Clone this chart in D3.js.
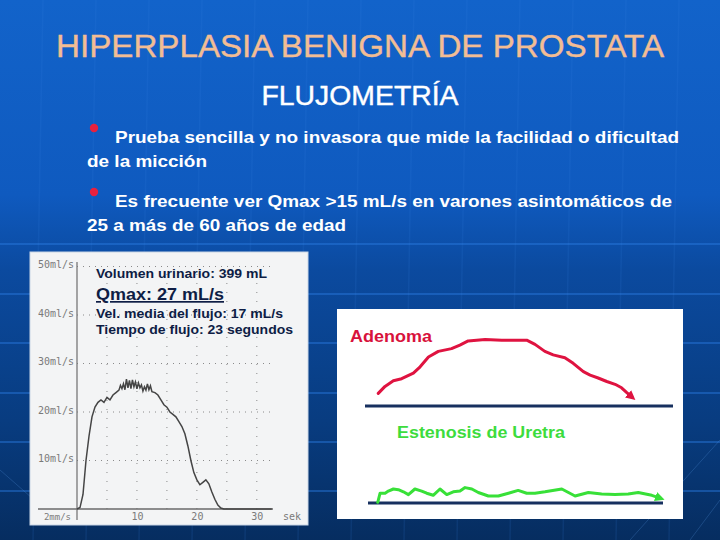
<!DOCTYPE html>
<html>
<head>
<meta charset="utf-8">
<script src="https://cdn.jsdelivr.net/npm/d3@7"></script>
<style>
  html, body { margin: 0; padding: 0; background: #0b4a9e; }
  svg { display: block; }
</style>
</head>
<body>
<div id="slide"></div>
<script>
// uroflowmetry trace (seconds, ml/s)
var flowTime = [0, 0.5, 1, 1.5, 2, 2.5, 3, 3.5, 4, 4.5, 5, 5.5, 6, 6.5,
  7, 7.25, 7.5, 7.75, 8, 8.25, 8.5, 8.75, 9, 9.25, 9.5, 9.75, 10, 10.25, 10.5, 10.75,
  11, 11.25, 11.5, 11.75, 12, 12.25, 12.5, 13, 13.5, 14, 14.5, 15, 15.5, 16, 16.5,
  17, 17.5, 18, 18.5, 19, 19.5, 20, 20.5, 21, 21.5, 22, 22.5, 23, 23.5, 24, 24.5, 25, 32.5];
var flowRate = [0, 0.3, 3, 10, 15, 19, 21, 22, 22.5, 22, 23, 22.5, 23.5, 24,
  24.5, 25.5, 24.8, 25.8, 24.6, 26.8, 25, 26.5, 24.8, 26.6, 25.2, 26.2, 24.8, 26, 25, 25.6,
  24.3, 25.2, 24.5, 25.8, 24.6, 25.4, 24.2, 24, 23.5, 22.5, 21.5, 21, 20, 19.5, 19,
  18, 17, 15.5, 13, 10, 7.5, 6, 5, 5.5, 6, 5.2, 3.5, 2, 0.8, 0.2, 0, 0, 0];
var flowYTicks = [10, 20, 30, 40, 50];
var flowXTicks = [10, 20, 30];
var flowGridX = [5, 10, 15, 20, 25, 30];
var flowNotes = ["Volumen urinario: 399 mL", "Qmax: 27 mL/s", "Vel. media del flujo: 17 mL/s", "Tiempo de flujo: 23 segundos"];

// schematic curves (relative time 0-100, relative flow)
var adenomaT = [4.3, 6.5, 9.2, 11.9, 15.7, 17.9, 20.6, 23.8, 28.1, 30.8, 33.5, 39.0, 44.4, 52.5,
  55.2, 58.4, 61.1, 64.9, 67.6, 70.9, 73.1, 75.7, 78.5, 81.2, 83.3, 85.0, 86.6];
var adenomaQ = [1.8, 2.8, 3.6, 3.9, 4.7, 5.6, 7.0, 7.8, 8.2, 8.7, 9.3, 9.5, 9.4, 9.4,
  8.8, 7.8, 7.3, 6.9, 6.1, 4.9, 4.4, 4.0, 3.5, 3.1, 2.6, 1.9, 1.3];
var estenosisT = [3.3, 4.1, 5.8, 6.9, 8.6, 10.3, 12.0, 13.7, 15.9, 18.2, 19.9, 22.1, 24.4, 26.7,
  28.9, 31.2, 32.9, 35.2, 37.4, 40.8, 44.2, 47.6, 50.9, 53.8, 56.6, 60.0, 65.7, 70.2,
  74.7, 79.2, 83.7, 88.2, 91.6, 96.2, 99.0];
var estenosisQ = [0.1, 1.4, 1.4, 1.7, 2.0, 1.9, 1.6, 1.2, 2.0, 1.7, 1.4, 1.1, 2.0, 1.2,
  1.6, 1.7, 2.2, 2.0, 1.5, 1.0, 1.0, 1.4, 1.8, 1.4, 1.4, 1.6, 2.0, 1.0,
  1.5, 1.3, 1.2, 1.3, 1.5, 1.1, 0.7];

var bullets = [
  ["Prueba sencilla y no invasora que mide la facilidad o dificultad", "de la micción"],
  ["Es frecuente ver Qmax >15 mL/s en varones asintomáticos de", "25 a más de 60 años de edad"]
];

var W = 720, H = 540;
var svg = d3.select("#slide").append("svg")
  .attr("width", W).attr("height", H)
  .style("font-family", "'Liberation Sans', Arial, sans-serif");

var defs = svg.append("defs");
var bg = defs.append("linearGradient").attr("id", "bg")
  .attr("x1", 0).attr("y1", 0).attr("x2", 0).attr("y2", 1);
bg.append("stop").attr("offset", 0).attr("stop-color", "#1263ca");
bg.append("stop").attr("offset", 0.36).attr("stop-color", "#0f5abf");
bg.append("stop").attr("offset", 0.5).attr("stop-color", "#0b4a9f");
bg.append("stop").attr("offset", 0.78).attr("stop-color", "#083c80");
bg.append("stop").attr("offset", 1).attr("stop-color", "#062d60");

svg.append("rect").attr("width", W).attr("height", H).attr("fill", "url(#bg)");

// faint background grid
var gridH = [244, 294, 343, 393, 442, 491];
svg.append("g").selectAll("line").data(gridH).enter().append("line")
  .attr("x1", 0).attr("x2", W).attr("y1", d => d).attr("y2", d => d)
  .attr("stroke", "#2a7ae0").attr("stroke-width", 2).attr("opacity", 0.45);
var gridV = d3.range(-20, W, 53);
svg.append("g").selectAll("line").data(gridV).enter().append("line")
  .attr("x1", d => d + 10).attr("x2", d => d).attr("y1", 0).attr("y2", H)
  .attr("stroke", "#3b86e6").attr("stroke-width", 1.5).attr("opacity", 0.12);
svg.append("path").attr("d", "M0,470 L40,505 M630,540 L720,440 M690,540 L720,500")
  .attr("stroke", "#5a9be8").attr("fill", "none").attr("opacity", 0.25);

// title
svg.append("text").attr("x", 360).attr("y", 57).attr("text-anchor", "middle")
  .attr("font-size", 32).attr("fill", "#f2bd94")
  .attr("stroke", "#f2bd94").attr("stroke-width", 0.4)
  .attr("textLength", 608).attr("lengthAdjust", "spacingAndGlyphs")
  .text("HIPERPLASIA BENIGNA DE PROSTATA");
svg.append("text").attr("x", 360).attr("y", 105).attr("text-anchor", "middle")
  .attr("font-size", 27).attr("fill", "#ffffff")
  .attr("stroke", "#ffffff").attr("stroke-width", 0.4)
  .attr("textLength", 197).attr("lengthAdjust", "spacingAndGlyphs")
  .text("FLUJOMETRÍA");

// bullets
var bulletY = [143, 207];
var firstLen = [564, 557], secondLen = [120, 259];
bullets.forEach(function(b, i) {
  svg.append("circle").attr("cx", 94).attr("cy", bulletY[i] - 15).attr("r", 4.2).attr("fill", "#e8213e");
  svg.append("text").attr("x", 115).attr("y", bulletY[i])
    .attr("font-size", 17).attr("font-weight", "bold").attr("fill", "#ffffff")
    .attr("textLength", firstLen[i]).attr("lengthAdjust", "spacingAndGlyphs")
    .text(b[0]);
  svg.append("text").attr("x", 87).attr("y", bulletY[i] + 24)
    .attr("font-size", 17).attr("font-weight", "bold").attr("fill", "#ffffff")
    .attr("textLength", secondLen[i]).attr("lengthAdjust", "spacingAndGlyphs")
    .text(b[1]);
});

// ---- uroflowmetry panel ----
svg.append("rect").attr("x", 30).attr("y", 252).attr("width", 278).attr("height", 273)
  .attr("fill", "#f3f4f5").attr("stroke", "#c9d6e6").attr("stroke-width", 1);

var fx = d3.scaleLinear().domain([0, 32.7]).range([77, 273]);
var fy = d3.scaleLinear().domain([0, 50]).range([509, 266.5]);
var flow = svg.append("g");

// dotted grid
flow.append("g").selectAll("line").data(flowYTicks).enter().append("line")
  .attr("x1", fx(0)).attr("x2", fx(32.7)).attr("y1", d => fy(d)).attr("y2", d => fy(d))
  .attr("stroke", "#8a8a8a").attr("stroke-width", 1).attr("stroke-dasharray", "1,5");
flow.append("g").selectAll("line").data(flowGridX).enter().append("line")
  .attr("x1", d => fx(d)).attr("x2", d => fx(d)).attr("y1", fy(0)).attr("y2", fy(50))
  .attr("stroke", "#8a8a8a").attr("stroke-width", 1).attr("stroke-dasharray", "1,8");

// axes
var yAxis = flow.append("g").attr("transform", "translate(" + fx(0) + ",0)")
  .call(d3.axisLeft(fy).tickValues(flowYTicks).tickSize(0).tickPadding(3)
    .tickFormat(d => d + "ml/s"));
yAxis.select(".domain").remove();
yAxis.selectAll("text").attr("font-family", "'DejaVu Sans Mono', monospace")
  .attr("font-size", 10).attr("fill", "#7a7a7a").attr("dy", "0.1em");
flow.append("line").attr("x1", fx(0)).attr("x2", fx(0)).attr("y1", 262).attr("y2", 520)
  .attr("stroke", "#777").attr("stroke-width", 1.3);

var xAxis = flow.append("g").attr("transform", "translate(0," + fy(0) + ")")
  .call(d3.axisBottom(fx).tickValues(flowXTicks).tickSize(0).tickPadding(4));
xAxis.select(".domain").remove();
xAxis.selectAll("text").attr("font-family", "'DejaVu Sans Mono', monospace")
  .attr("font-size", 10).attr("fill", "#7a7a7a");
flow.append("line").attr("x1", 38).attr("x2", fx(32.7)).attr("y1", fy(0)).attr("y2", fy(0))
  .attr("stroke", "#6a6a6a").attr("stroke-width", 1.3);
flow.append("text").attr("x", 71).attr("y", 520).attr("text-anchor", "end")
  .attr("font-family", "'DejaVu Sans Mono', monospace").attr("font-size", 9).attr("fill", "#7a7a7a")
  .text("2mm/s");
flow.append("text").attr("x", 283).attr("y", 520)
  .attr("font-family", "'DejaVu Sans Mono', monospace").attr("font-size", 10).attr("fill", "#7a7a7a")
  .text("sek");

// flow curve
var flowLine = d3.line().x((d, i) => fx(flowTime[i])).y(d => fy(d));
flow.append("path").datum(flowRate).attr("d", flowLine)
  .attr("fill", "none").attr("stroke", "#454545").attr("stroke-width", 1.5);

// notes
var noteY = [278, 300, 318, 334], noteLen = [171, 128, 187, 197], noteSize = [12, 17, 12, 12];
flowNotes.forEach(function(t, i) {
  flow.append("text").attr("x", 96).attr("y", noteY[i])
    .attr("font-size", noteSize[i]).attr("font-weight", "bold")
    .attr("fill", "#0e1d45")
    .attr("textLength", noteLen[i]).attr("lengthAdjust", "spacingAndGlyphs")
    .attr("text-decoration", i == 1 ? "underline" : null)
    .text(t);
});

// ---- schematic panel ----
svg.append("rect").attr("x", 337).attr("y", 309).attr("width", 346).attr("height", 210)
  .attr("fill", "#ffffff");

function arrow(id, col) {
  defs.append("marker").attr("id", id).attr("viewBox", "0 0 10 10")
    .attr("refX", 5).attr("refY", 5).attr("markerWidth", 3.2).attr("markerHeight", 3.2)
    .attr("orient", "auto")
    .append("path").attr("d", "M0,0 L10,5 L0,10 z").attr("fill", col);
}
arrow("arrR", "#df1340");
arrow("arrG", "#38e038");

var ax = d3.scaleLinear().domain([0, 100]).range([365, 673]);
var ay = d3.scaleLinear().domain([0, 10]).range([406, 336]);
var sx = d3.scaleLinear().domain([0, 100]).range([368, 663]);
var sy = d3.scaleLinear().domain([0, 10]).range([503, 433]);

svg.append("line").attr("x1", ax(0)).attr("x2", ax(100)).attr("y1", ay(0)).attr("y2", ay(0))
  .attr("stroke", "#17305f").attr("stroke-width", 3);
svg.append("line").attr("x1", sx(0)).attr("x2", sx(100)).attr("y1", sy(0)).attr("y2", sy(0))
  .attr("stroke", "#17305f").attr("stroke-width", 3);

var adLine = d3.line().x((d, i) => ax(adenomaT[i])).y(d => ay(d));
svg.append("path").datum(adenomaQ).attr("d", adLine)
  .attr("fill", "none").attr("stroke", "#df1340").attr("stroke-width", 3)
  .attr("stroke-linejoin", "round").attr("stroke-linecap", "round").attr("marker-end", "url(#arrR)");

var esLine = d3.line().x((d, i) => sx(estenosisT[i])).y(d => sy(d));
svg.append("path").datum(estenosisQ).attr("d", esLine)
  .attr("fill", "none").attr("stroke", "#38e038").attr("stroke-width", 3)
  .attr("stroke-linejoin", "round").attr("stroke-linecap", "round").attr("marker-end", "url(#arrG)");

svg.append("text").attr("x", 350).attr("y", 342)
  .attr("font-size", 17).attr("font-weight", "bold").attr("fill", "#d8123c")
  .attr("textLength", 82).attr("lengthAdjust", "spacingAndGlyphs")
  .text("Adenoma");
svg.append("text").attr("x", 397).attr("y", 438)
  .attr("font-size", 17).attr("font-weight", "bold").attr("fill", "#3ddc3d")
  .attr("textLength", 168).attr("lengthAdjust", "spacingAndGlyphs")
  .text("Estenosis de Uretra");
</script>
</body>
</html>
